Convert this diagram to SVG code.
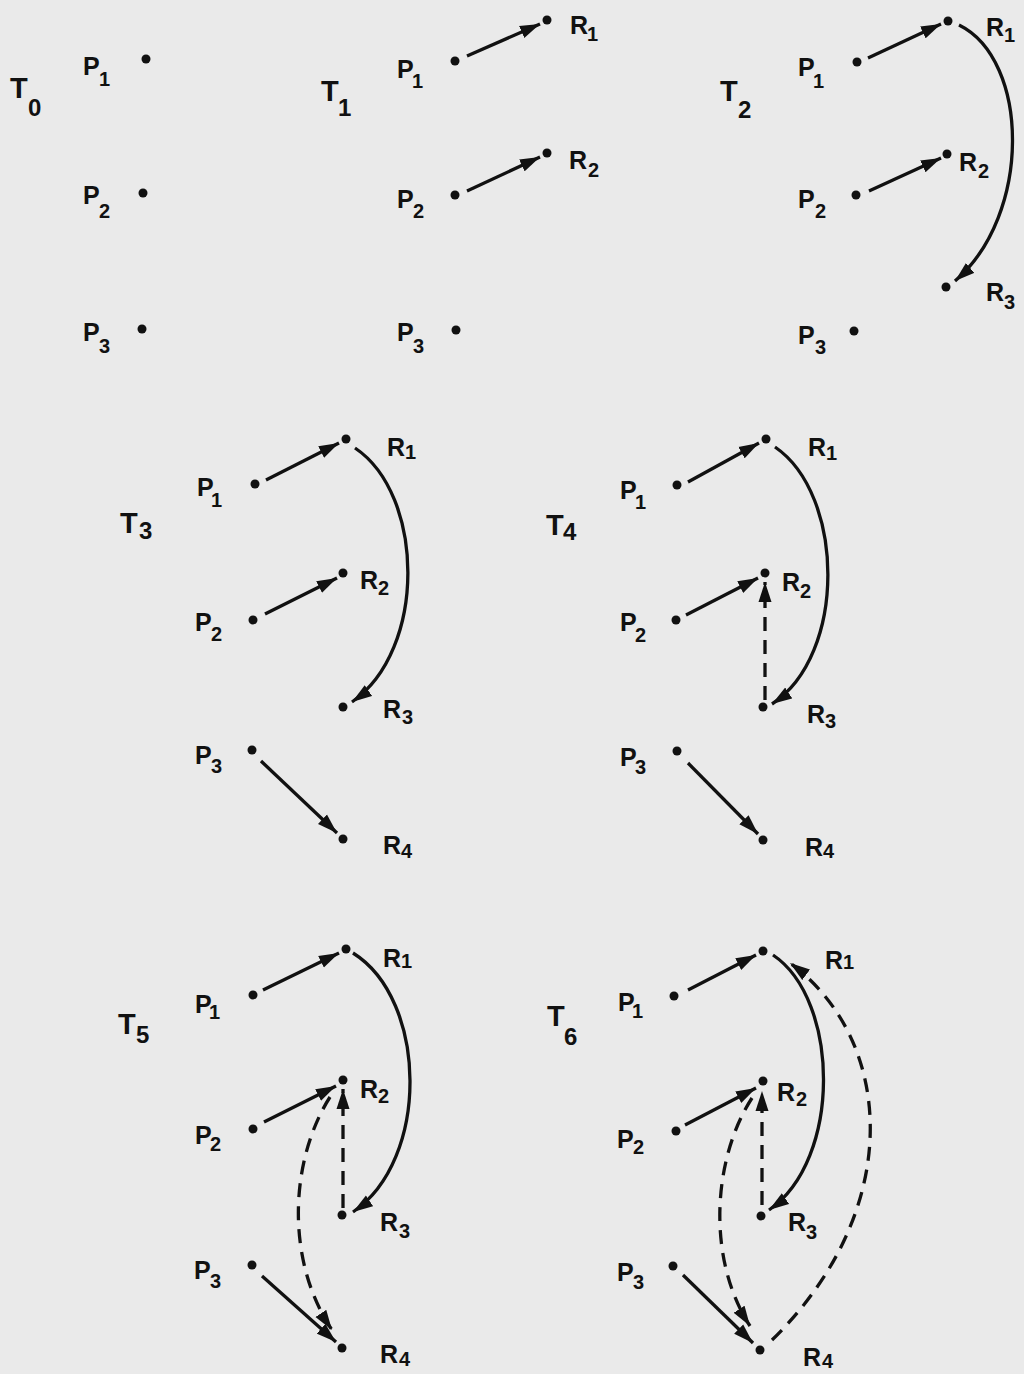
<svg xmlns="http://www.w3.org/2000/svg" width="1024" height="1374" viewBox="0 0 1024 1374">
<defs>
<style>
.bg{fill:#eaeaea}
.dot{fill:#111}
.m{font-family:"Liberation Sans",Arial,sans-serif;font-weight:bold;font-size:25px;fill:#111}
.s{font-family:"Liberation Sans",Arial,sans-serif;font-weight:bold;font-size:20px;fill:#111}
.tm{font-family:"Liberation Sans",Arial,sans-serif;font-weight:bold;font-size:29px;fill:#111}
.ts{font-family:"Liberation Sans",Arial,sans-serif;font-weight:bold;font-size:24px;fill:#111}
.c{fill:none;stroke:#111;stroke-width:3.3;marker-end:url(#ah)}
.d{fill:none;stroke:#111;stroke-width:3.3;stroke-dasharray:14 9;marker-end:url(#ah)}
</style>
<marker id="ah" markerUnits="userSpaceOnUse" markerWidth="22" markerHeight="14" refX="20" refY="7" orient="auto">
<path d="M0,0.5 L20,7 L0,13.5 z" fill="#111"/>
</marker>
</defs>
<rect class="bg" x="0" y="0" width="1024" height="1374"/>

<!-- Panel T0 -->
<g id="T0">
<text class="tm" x="10" y="98">T</text><text class="ts" x="28" y="116">0</text>
</g>
<g id="T0-P1"><circle class="dot" cx="146" cy="59" r="4.5"/><text class="m" x="83" y="75">P</text><text class="s" x="99" y="86">1</text></g>
<g id="T0-P2"><circle class="dot" cx="143" cy="193" r="4.5"/><text class="m" x="83" y="204">P</text><text class="s" x="99" y="218">2</text></g>
<g id="T0-P3"><circle class="dot" cx="142" cy="329" r="4.5"/><text class="m" x="83" y="341">P</text><text class="s" x="99" y="353">3</text></g>

<!-- Panel T1 -->
<g id="T1">
<text class="tm" x="321" y="101">T</text><text class="ts" x="338" y="116">1</text>
</g>
<g id="T1-P1"><circle class="dot" cx="455" cy="61" r="4.5"/><text class="m" x="397" y="78">P</text><text class="s" x="412" y="88">1</text></g>
<g id="T1-R1"><circle class="dot" cx="547" cy="20" r="4.5"/><text class="m" x="570" y="34">R</text><text class="s" x="587" y="41">1</text></g>
<g id="T1-P2"><circle class="dot" cx="455" cy="195" r="4.5"/><text class="m" x="397" y="208">P</text><text class="s" x="413" y="218">2</text></g>
<g id="T1-R2"><circle class="dot" cx="547" cy="153" r="4.5"/><text class="m" x="569" y="169">R</text><text class="s" x="588" y="177">2</text></g>
<g id="T1-P3"><circle class="dot" cx="456" cy="330" r="4.5"/><text class="m" x="397" y="341">P</text><text class="s" x="413" y="353">3</text></g>

<!-- Panel T2 -->
<g id="T2">
<text class="tm" x="720" y="101">T</text><text class="ts" x="738" y="118">2</text>
</g>
<g id="T2-P1"><circle class="dot" cx="857" cy="62" r="4.5"/><text class="m" x="798" y="76">P</text><text class="s" x="813" y="88">1</text></g>
<g id="T2-R1"><circle class="dot" cx="948" cy="21" r="4.5"/><text class="m" x="986" y="36">R</text><text class="s" x="1004" y="42">1</text></g>
<g id="T2-P2"><circle class="dot" cx="856" cy="195" r="4.5"/><text class="m" x="798" y="208">P</text><text class="s" x="815" y="218">2</text></g>
<g id="T2-R2"><circle class="dot" cx="947" cy="154" r="4.5"/><text class="m" x="959" y="171">R</text><text class="s" x="978" y="178">2</text></g>
<g id="T2-R3"><circle class="dot" cx="946" cy="287" r="4.5"/><text class="m" x="986" y="301">R</text><text class="s" x="1004" y="309">3</text></g>
<g id="T2-P3"><circle class="dot" cx="854" cy="331" r="4.5"/><text class="m" x="798" y="344">P</text><text class="s" x="815" y="354">3</text></g>

<!-- Panel T3 -->
<g id="T3">
<text class="tm" x="120" y="533">T</text><text class="ts" x="139" y="539">3</text>
</g>
<g id="T3-P1"><circle class="dot" cx="255" cy="484" r="4.5"/><text class="m" x="197" y="496">P</text><text class="s" x="211" y="507">1</text></g>
<g id="T3-R1"><circle class="dot" cx="346" cy="439" r="4.5"/><text class="m" x="387" y="456">R</text><text class="s" x="405" y="459">1</text></g>
<g id="T3-P2"><circle class="dot" cx="253" cy="620" r="4.5"/><text class="m" x="195" y="631">P</text><text class="s" x="211" y="641">2</text></g>
<g id="T3-R2"><circle class="dot" cx="343" cy="573" r="4.5"/><text class="m" x="360" y="589">R</text><text class="s" x="378" y="595">2</text></g>
<g id="T3-R3"><circle class="dot" cx="343" cy="707" r="4.5"/><text class="m" x="383" y="718">R</text><text class="s" x="402" y="724">3</text></g>
<g id="T3-P3"><circle class="dot" cx="252" cy="750" r="4.5"/><text class="m" x="195" y="764">P</text><text class="s" x="211" y="773">3</text></g>
<g id="T3-R4"><circle class="dot" cx="343" cy="839" r="4.5"/><text class="m" x="383" y="854">R</text><text class="s" x="401" y="858">4</text></g>

<!-- Panel T4 -->
<g id="T4">
<text class="tm" x="546" y="535">T</text><text class="ts" x="563" y="540">4</text>
</g>
<g id="T4-P1"><circle class="dot" cx="677" cy="485" r="4.5"/><text class="m" x="620" y="499">P</text><text class="s" x="635" y="509">1</text></g>
<g id="T4-R1"><circle class="dot" cx="766" cy="439" r="4.5"/><text class="m" x="808" y="456">R</text><text class="s" x="826" y="460">1</text></g>
<g id="T4-P2"><circle class="dot" cx="676" cy="620" r="4.5"/><text class="m" x="620" y="631">P</text><text class="s" x="635" y="642">2</text></g>
<g id="T4-R2"><circle class="dot" cx="765" cy="573" r="4.5"/><text class="m" x="782" y="591">R</text><text class="s" x="800" y="598">2</text></g>
<g id="T4-R3"><circle class="dot" cx="763" cy="707" r="4.5"/><text class="m" x="807" y="723">R</text><text class="s" x="825" y="728">3</text></g>
<g id="T4-P3"><circle class="dot" cx="677" cy="751" r="4.5"/><text class="m" x="620" y="766">P</text><text class="s" x="635" y="774">3</text></g>
<g id="T4-R4"><circle class="dot" cx="763" cy="840" r="4.5"/><text class="m" x="805" y="856">R</text><text class="s" x="823" y="858">4</text></g>

<!-- Panel T5 -->
<g id="T5">
<text class="tm" x="118" y="1034">T</text><text class="ts" x="136" y="1043">5</text>
</g>
<g id="T5-P1"><circle class="dot" cx="253" cy="995" r="4.5"/><text class="m" x="195" y="1013">P</text><text class="s" x="209" y="1019">1</text></g>
<g id="T5-R1"><circle class="dot" cx="346" cy="949" r="4.5"/><text class="m" x="383" y="967">R</text><text class="s" x="401" y="968">1</text></g>
<g id="T5-P2"><circle class="dot" cx="253" cy="1129" r="4.5"/><text class="m" x="195" y="1144">P</text><text class="s" x="210" y="1151">2</text></g>
<g id="T5-R2"><circle class="dot" cx="343" cy="1080" r="4.5"/><text class="m" x="360" y="1098">R</text><text class="s" x="378" y="1103">2</text></g>
<g id="T5-R3"><circle class="dot" cx="342" cy="1215" r="4.5"/><text class="m" x="380" y="1231">R</text><text class="s" x="399" y="1238">3</text></g>
<g id="T5-P3"><circle class="dot" cx="252" cy="1265" r="4.5"/><text class="m" x="194" y="1279">P</text><text class="s" x="210" y="1288">3</text></g>
<g id="T5-R4"><circle class="dot" cx="342" cy="1348" r="4.5"/><text class="m" x="380" y="1363">R</text><text class="s" x="399" y="1366">4</text></g>

<!-- Panel T6 -->
<g id="T6">
<text class="tm" x="547" y="1026">T</text><text class="ts" x="564" y="1045">6</text>
</g>
<g id="T6-P1"><circle class="dot" cx="674" cy="996" r="4.5"/><text class="m" x="618" y="1011">P</text><text class="s" x="632" y="1018">1</text></g>
<g id="T6-R1"><circle class="dot" cx="763" cy="951" r="4.5"/><text class="m" x="825" y="969">R</text><text class="s" x="843" y="969">1</text></g>
<g id="T6-P2"><circle class="dot" cx="676" cy="1131" r="4.5"/><text class="m" x="617" y="1148">P</text><text class="s" x="633" y="1154">2</text></g>
<g id="T6-R2"><circle class="dot" cx="763" cy="1081" r="4.5"/><text class="m" x="777" y="1101">R</text><text class="s" x="796" y="1106">2</text></g>
<g id="T6-R3"><circle class="dot" cx="761" cy="1216" r="4.5"/><text class="m" x="788" y="1231">R</text><text class="s" x="806" y="1239">3</text></g>
<g id="T6-P3"><circle class="dot" cx="673" cy="1266" r="4.5"/><text class="m" x="617" y="1281">P</text><text class="s" x="633" y="1289">3</text></g>
<g id="T6-R4"><circle class="dot" cx="760" cy="1350" r="4.5"/><text class="m" x="803" y="1366">R</text><text class="s" x="822" y="1368">4</text></g>

<g id="connectors">
<!-- T1 -->
<path class="c" d="M467,56 L540,24"/>
<path class="c" d="M467,191 L540,157"/>
<!-- T2 -->
<path class="c" d="M868,58 L941,24"/>
<path class="c" d="M869,191 L941,158"/>
<path class="c" d="M959,25 C1030,60 1032,215 955,281"/>
<!-- T3 -->
<path class="c" d="M266,480 L339,443"/>
<path class="c" d="M265,614 L337,578"/>
<path class="c" d="M355,448 C425,495 427,650 352,702"/>
<path class="c" d="M261,761 L337,833"/>
<!-- T4 -->
<path class="c" d="M688,482 L759,443"/>
<path class="c" d="M686,615 L758,578"/>
<path class="c" d="M775,447 C845,495 847,655 772,704"/>
<path class="d" d="M765,700 L765,582"/>
<path class="c" d="M688,763 L758,834"/>
<!-- T5 -->
<path class="c" d="M263,990 L339,953"/>
<path class="c" d="M264,1122 L336,1086"/>
<path class="c" d="M353,953 C428,1000 430,1160 353,1212"/>
<path class="d" d="M343,1208 L343,1089"/>
<path class="d" d="M330,1097 C290,1160 285,1260 332,1330"/>
<path class="c" d="M262,1276 L336,1342"/>
<!-- T6 -->
<path class="c" d="M688,990 L756,955"/>
<path class="c" d="M685,1125 L756,1088"/>
<path class="c" d="M773,955 C840,1000 842,1160 769,1210"/>
<path class="d" d="M762,1205 L762,1091"/>
<path class="d" d="M752,1098 C712,1160 707,1260 750,1326"/>
<path class="c" d="M683,1275 L753,1343"/>
<path class="d" d="M772,1340 C905,1210 895,1040 790,963"/>
</g>
</svg>
